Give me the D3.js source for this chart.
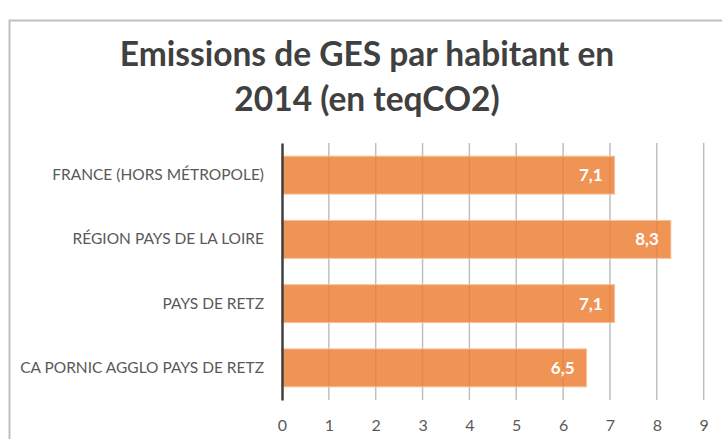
<!DOCTYPE html>
<html>
<head>
<meta charset="utf-8">
<script src="https://cdn.jsdelivr.net/npm/d3@7"></script>
<style>
  body { margin: 0; background: #fff; }
  svg { display: block; }
</style>
</head>
<body>
<script>
// données
const categories = ["FRANCE (HORS MÉTROPOLE)", "RÉGION PAYS DE LA LOIRE", "PAYS DE RETZ", "CA PORNIC AGGLO PAYS DE RETZ"];
const values = [7.1, 8.3, 7.1, 6.5];
const ticks = [0, 1, 2, 3, 4, 5, 6, 7, 8, 9];
const titleLines = ["Emissions de GES par habitant en", "2014 (en teqCO2)"];

const width = 722, height = 439;
const margin = {left: 282, right: 19, top: 143, bottom: 39};

const svg = d3.select("body").append("svg")
  .attr("width", width)
  .attr("height", height);

// cadre du graphique
svg.append("rect")
  .attr("x", 9.5).attr("y", 20.5)
  .attr("width", 730).attr("height", 440)
  .attr("fill", "none")
  .attr("stroke", "#bfbfbf")
  .attr("stroke-width", 2);

// titre
svg.append("g").selectAll("text")
  .data(titleLines)
  .join("text")
  .attr("x", 367)
  .attr("y", (d, i) => 66 + i * 45)
  .attr("text-anchor", "middle")
  .attr("font-family", "Lato, 'Open Sans', sans-serif")
  .attr("font-weight", "bold")
  .attr("font-size", 33.5)
  .attr("fill", "#404040")
  .text(d => d);

let x = d3.scaleLinear()
  .domain([0, 9])
  .range([margin.left, margin.left + 46.85 * 9]);

let y = d3.scaleBand()
  .domain(categories)
  .range([margin.top, height - margin.bottom])
  .paddingInner(0.41)
  .paddingOuter(0.205);

// grille verticale
svg.append("g").selectAll("line")
  .data(ticks.slice(1))
  .join("line")
  .attr("x1", d => x(d)).attr("x2", d => x(d))
  .attr("y1", margin.top).attr("y2", height - margin.bottom)
  .attr("stroke", "#bfbfbf")
  .attr("stroke-width", 1.5);

// barres
svg.append("g").selectAll("rect")
  .data(values)
  .join("rect")
  .attr("x", x(0))
  .attr("y", (d, i) => y(categories[i]))
  .attr("width", d => x(d) - x(0))
  .attr("height", y.bandwidth())
  .attr("fill", "#ED7D31")
  .attr("fill-opacity", 0.82)
  .attr("stroke", "#F6C09B")
  .attr("stroke-width", 1);

// étiquettes de valeurs
svg.append("g").selectAll("text")
  .data(values)
  .join("text")
  .attr("x", d => x(d) - 12)
  .attr("y", (d, i) => y(categories[i]) + y.bandwidth() / 2)
  .attr("dy", "0.35em")
  .attr("text-anchor", "end")
  .attr("font-family", "Lato, 'Open Sans', sans-serif")
  .attr("font-weight", "bold")
  .attr("font-size", 17)
  .attr("fill", "#fff")
  .text(d => String(d).replace(".", ","));

// axe des catégories
let yAxis = svg.append("g")
  .attr("transform", `translate(${margin.left},0)`)
  .call(d3.axisLeft(y).tickSize(0).tickPadding(18));
yAxis.select(".domain").attr("stroke", "#404040").attr("stroke-width", 2.5);
yAxis.selectAll("text")
  .attr("font-family", "Lato, 'Open Sans', sans-serif")
  .attr("font-size", 15.5)
  .attr("fill", "#595959");

// axe des valeurs
let xAxis = svg.append("g")
  .attr("transform", `translate(0,${height - margin.bottom})`)
  .call(d3.axisBottom(x).tickValues(ticks).tickSize(0).tickPadding(20));
xAxis.select(".domain").remove();
xAxis.selectAll("text")
  .attr("font-family", "Lato, 'Open Sans', sans-serif")
  .attr("font-size", 16)
  .attr("fill", "#595959");
</script>
</body>
</html>
